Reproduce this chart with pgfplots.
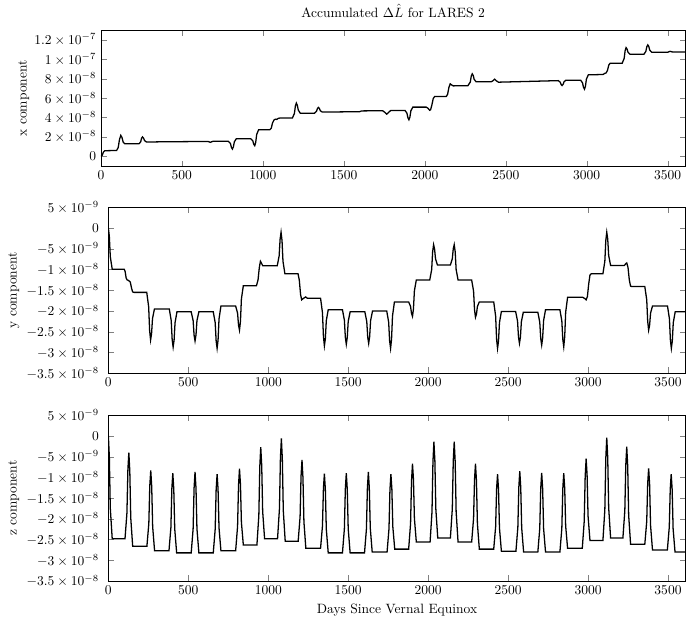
\documentclass[border=0pt]{standalone}
\usepackage{pgfplots}
\pgfplotsset{compat=1.18}
\begin{document}
\begin{tikzpicture}
\pgfplotsset{every axis/.append style={scale only axis, xmin=0, xmax=3610, xtick={0,500,...,3500}, scaled y ticks=false, scaled x ticks=false, /pgf/number format/1000 sep={}}}
% ---------- x component ----------
\begin{axis}[name=top, at={(0,0)}, anchor=north west,
  width=432.9pt, height=100.6pt,
  ymin=-1.03e-8, ymax=1.297e-7,
  ytick={0,2e-8,4e-8,6e-8,8e-8,1e-7,1.2e-7},
  yticklabels={$0$,$2\times10^{-8}$,$4\times10^{-8}$,$6\times10^{-8}$,$8\times10^{-8}$,$1\times10^{-7}$,$1.2\times10^{-7}$},
  ylabel={x component}, ylabel shift=-3pt,
  title={Accumulated $\Delta\hat{L}$ for LARES 2}]
\addplot[black, line width=0.95pt] coordinates {
(0,0e-9) (8,1.0e-9) (16,4.5e-9) (25,5.8e-9) (97,6.0e-9) (107,9.0e-9) (115,17.5e-9) (123,21.6e-9) (130,19.5e-9) (138,14.5e-9) (148,13.0e-9) (236,13.0e-9) (246,15.0e-9) (251,18.6e-9) (257,20.0e-9) (263,18.8e-9) (270,16.2e-9) (282,14.7e-9) (385,15.0e-9) (662,15.3e-9) (670,14.8e-9) (676,14.4e-9) (684,15.0e-9) (692,15.5e-9) (786,15.6e-9) (800,13.2e-9) (806,9.1e-9) (812,7.5e-9) (818,9.6e-9) (824,14.9e-9) (836,18.1e-9) (926,18.1e-9) (938,16.0e-9) (944,12.4e-9) (950,11.0e-9) (956,14.3e-9) (962,22.5e-9) (974,27.4e-9) (1043,27.4e-9) (1052,29.0e-9) (1060,34.5e-9) (1069,37.5e-9) (1078,38.3e-9) (1086,38.0e-9) (1096,39.2e-9) (1104,39.4e-9) (1183,39.6e-9) (1195,44.2e-9) (1201,51.8e-9) (1207,54.8e-9) (1213,52.7e-9) (1219,47.6e-9) (1231,44.5e-9) (1319,44.5e-9) (1331,46.3e-9) (1337,49.2e-9) (1343,50.4e-9) (1349,49.4e-9) (1355,47.0e-9) (1367,45.6e-9) (1598,46.0e-9) (1610,46.8e-9) (1740,47.0e-9) (1752,45.5e-9) (1765,43.5e-9) (1778,45.5e-9) (1790,47.3e-9) (1878,47.3e-9) (1890,44.4e-9) (1896,39.6e-9) (1902,37.7e-9) (1908,40.3e-9) (1914,46.8e-9) (1926,50.7e-9) (2009,50.7e-9) (2020,49.5e-9) (2030,47.5e-9) (2036,48.0e-9) (2044,53.0e-9) (2052,59.5e-9) (2061,61.7e-9) (2133,61.7e-9) (2141,64.0e-9) (2149,71.0e-9) (2157,74.7e-9) (2166,73.5e-9) (2176,72.6e-9) (2266,72.8e-9) (2281,76.5e-9) (2287,82.6e-9) (2293,85.0e-9) (2299,83.4e-9) (2305,79.3e-9) (2317,76.8e-9) (2410,76.8e-9) (2422,78.0e-9) (2431,79.5e-9) (2440,78.0e-9) (2455,76.4e-9) (2595,77.0e-9) (2824,78.0e-9) (2836,76.5e-9) (2842,74.0e-9) (2848,73.0e-9) (2854,74.1e-9) (2860,76.9e-9) (2872,78.5e-9) (2962,78.5e-9) (2974,75.7e-9) (2980,71.1e-9) (2986,69.2e-9) (2992,72.2e-9) (2998,79.6e-9) (3010,84.0e-9) (3100,84.3e-9) (3112,85.5e-9) (3120,86.0e-9) (3128,88.5e-9) (3136,94.0e-9) (3145,96.0e-9) (3219,96.0e-9) (3231,100.8e-9) (3237,108.8e-9) (3243,112.0e-9) (3249,110.6e-9) (3255,107.2e-9) (3267,105.2e-9) (3353,105.2e-9) (3365,108.1e-9) (3371,112.9e-9) (3377,114.8e-9) (3383,113.3e-9) (3389,109.5e-9) (3401,107.3e-9) (3500,107.3e-9) (3515,108.2e-9) (3530,107.5e-9) (3610,107.5e-9)
};
\end{axis}
% ---------- y component ----------
\begin{axis}[name=mid, at={(5.55pt,-131pt)}, anchor=north west,
  width=427.4pt, height=122.8pt,
  ymin=-3.5e-8, ymax=5e-9,
  ytick={-3.5e-8,-3e-8,-2.5e-8,-2e-8,-1.5e-8,-1e-8,-5e-9,0,5e-9},
  yticklabels={$-3.5\times10^{-8}$,$-3\times10^{-8}$,$-2.5\times10^{-8}$,$-2\times10^{-8}$,$-1.5\times10^{-8}$,$-1\times10^{-8}$,$-5\times10^{-9}$,$0$,$5\times10^{-9}$},
  yticklabel style={xshift=-3.5pt},
  ylabel={y component}, ylabel shift=-1.5pt]
\addplot[black, line width=0.95pt] coordinates {
(0,0e-9) (6,-2.0e-9) (12,-6.9e-9) (24,-9.9e-9) (99,-9.9e-9) (105,-10.5e-9) (111,-12.0e-9) (117,-12.5e-9) (125,-12.6e-9) (137,-13.0e-9) (145,-14.5e-9) (152,-15.4e-9) (160,-15.5e-9)
(240,-15.5e-9) (252,-19.0e-9) (258,-24.7e-9) (264,-27.0e-9) (270,-25.5e-9) (276,-21.8e-9) (288,-19.5e-9)
(381,-19.5e-9) (393,-22.3e-9) (399,-26.9e-9) (405,-28.7e-9) (411,-27.0e-9) (417,-22.8e-9) (429,-20.2e-9)
(518,-20.2e-9) (530,-22.3e-9) (536,-25.8e-9) (542,-27.2e-9) (548,-25.8e-9) (554,-22.3e-9) (566,-20.2e-9)
(656,-20.2e-9) (668,-22.8e-9) (674,-27.2e-9) (680,-29.0e-9) (686,-27.0e-9) (692,-21.9e-9) (704,-18.8e-9)
(796,-18.8e-9) (808,-20.5e-9) (814,-23.4e-9) (820,-24.6e-9) (826,-22.5e-9) (832,-17.1e-9) (844,-13.9e-9)
(926,-13.9e-9) (936,-12.5e-9) (944,-9.5e-9) (951,-8.0e-9) (958,-8.5e-9) (966,-9.1e-9) (978,-9.1e-9)
(1056,-9.1e-9) (1068,-6.7e-9) (1074,-2.7e-9) (1080,-1.0e-9) (1086,-3.0e-9) (1092,-8.0e-9) (1104,-11.0e-9)
(1186,-11.0e-9) (1194,-12.5e-9) (1202,-16.0e-9) (1209,-17.3e-9) (1218,-17.0e-9) (1234,-16.6e-9) (1244,-16.9e-9)
(1327,-16.9e-9) (1339,-20.4e-9) (1345,-26.1e-9) (1351,-28.4e-9) (1357,-26.7e-9) (1363,-22.3e-9) (1375,-19.7e-9)
(1464,-19.7e-9) (1476,-22.2e-9) (1482,-26.3e-9) (1488,-28.0e-9) (1494,-26.4e-9) (1500,-22.5e-9) (1512,-20.2e-9)
(1604,-20.2e-9) (1616,-22.5e-9) (1622,-26.3e-9) (1628,-27.8e-9) (1634,-26.2e-9) (1640,-22.3e-9) (1652,-20.0e-9)
(1741,-20.0e-9) (1753,-22.7e-9) (1759,-27.2e-9) (1765,-29.0e-9) (1771,-26.8e-9) (1777,-21.2e-9) (1789,-17.8e-9)
(1878,-17.8e-9) (1890,-18.9e-9) (1896,-20.6e-9) (1902,-21.3e-9) (1908,-19.5e-9) (1914,-15.1e-9) (1926,-12.5e-9)
(2010,-12.5e-9) (2022,-10.0e-9) (2028,-5.7e-9) (2034,-4.0e-9) (2040,-5.0e-9) (2046,-7.4e-9) (2058,-8.9e-9)
(2139,-8.9e-9) (2151,-7.4e-9) (2157,-5.0e-9) (2163,-4.0e-9) (2169,-5.7e-9) (2175,-10.0e-9) (2187,-12.5e-9)
(2272,-12.5e-9) (2284,-15.2e-9) (2290,-19.7e-9) (2296,-21.5e-9) (2302,-20.8e-9) (2308,-18.9e-9) (2320,-17.8e-9)
(2410,-17.8e-9) (2422,-21.2e-9) (2428,-26.8e-9) (2434,-29.0e-9) (2440,-27.2e-9) (2446,-22.8e-9) (2458,-20.1e-9)
(2547,-20.1e-9) (2559,-22.4e-9) (2565,-26.3e-9) (2571,-27.8e-9) (2577,-26.3e-9) (2583,-22.6e-9) (2595,-20.3e-9)
(2686,-20.3e-9) (2698,-22.7e-9) (2704,-26.6e-9) (2710,-28.2e-9) (2716,-26.5e-9) (2722,-22.3e-9) (2734,-19.7e-9)
(2824,-19.7e-9) (2836,-22.4e-9) (2842,-26.8e-9) (2848,-28.6e-9) (2854,-26.2e-9) (2860,-20.3e-9) (2872,-16.7e-9)
(2967,-16.7e-9) (2980,-17.0e-9) (2988,-17.3e-9) (2996,-16.5e-9) (3004,-13.5e-9) (3012,-11.3e-9) (3020,-11.0e-9)
(3093,-11.0e-9) (3105,-8.0e-9) (3111,-3.0e-9) (3117,-1.0e-9) (3123,-2.6e-9) (3129,-6.6e-9) (3141,-9.0e-9)
(3227,-9.0e-9) (3236,-8.6e-9) (3242,-8.4e-9) (3250,-9.5e-9) (3258,-12.5e-9) (3266,-14.0e-9) (3274,-14.1e-9)
(3355,-14.1e-9) (3367,-17.3e-9) (3373,-22.5e-9) (3379,-24.6e-9) (3385,-23.4e-9) (3391,-20.5e-9) (3403,-18.8e-9)
(3497,-18.8e-9) (3509,-21.9e-9) (3515,-27.0e-9) (3521,-29.0e-9) (3527,-27.2e-9) (3533,-22.8e-9) (3545,-20.2e-9)
(3610,-20.2e-9)
};
\end{axis}
% ---------- z component ----------
\begin{axis}[name=bot, at={(5.55pt,-284.9pt)}, anchor=north west,
  width=427.4pt, height=122.8pt,
  ymin=-3.5e-8, ymax=5e-9,
  ytick={-3.5e-8,-3e-8,-2.5e-8,-2e-8,-1.5e-8,-1e-8,-5e-9,0,5e-9},
  yticklabels={$-3.5\times10^{-8}$,$-3\times10^{-8}$,$-2.5\times10^{-8}$,$-2\times10^{-8}$,$-1.5\times10^{-8}$,$-1\times10^{-8}$,$-5\times10^{-9}$,$0$,$5\times10^{-9}$},
  yticklabel style={xshift=-3.5pt},
  ylabel={z component}, ylabel shift=-1.5pt,
  xlabel={Days Since Vernal Equinox}]
\addplot[black, line width=0.95pt] coordinates {
(0,0e-9) (6,-5.0e-9) (12,-17.4e-9) (24,-24.8e-9)
(104,-24.8e-9) (116,-18.6e-9) (122,-8.2e-9) (128,-4.0e-9) (134,-8.5e-9) (140,-19.8e-9) (152,-26.6e-9)
(241,-26.6e-9) (253,-21.1e-9) (259,-12.0e-9) (265,-8.3e-9) (271,-12.2e-9) (277,-21.9e-9) (289,-27.7e-9)
(379,-27.7e-9) (391,-22.1e-9) (397,-12.7e-9) (403,-9.0e-9) (409,-12.8e-9) (415,-22.4e-9) (427,-28.2e-9)
(518,-28.2e-9) (530,-22.4e-9) (536,-12.6e-9) (542,-8.7e-9) (548,-12.6e-9) (554,-22.4e-9) (566,-28.2e-9)
(656,-28.2e-9) (668,-22.5e-9) (674,-13.0e-9) (680,-9.2e-9) (686,-12.9e-9) (692,-22.2e-9) (704,-27.7e-9)
(796,-27.7e-9) (808,-21.8e-9) (814,-11.9e-9) (820,-7.9e-9) (826,-11.6e-9) (832,-20.8e-9) (844,-26.3e-9)
(929,-26.3e-9) (941,-19.2e-9) (947,-7.4e-9) (953,-2.7e-9) (959,-7.1e-9) (965,-18.2e-9) (977,-24.8e-9)
(1058,-24.8e-9) (1070,-17.5e-9) (1076,-5.4e-9) (1082,-0.6e-9) (1088,-5.6e-9) (1094,-18.0e-9) (1106,-25.4e-9)
(1187,-25.4e-9) (1199,-19.5e-9) (1205,-9.7e-9) (1211,-5.8e-9) (1217,-10.1e-9) (1223,-20.7e-9) (1235,-27.1e-9)
(1327,-27.1e-9) (1339,-21.7e-9) (1345,-12.7e-9) (1351,-9.1e-9) (1357,-12.9e-9) (1363,-22.5e-9) (1375,-28.2e-9)
(1464,-28.2e-9) (1476,-22.4e-9) (1482,-12.8e-9) (1488,-9.0e-9) (1494,-12.8e-9) (1500,-22.4e-9) (1512,-28.2e-9)
(1602,-28.2e-9) (1614,-22.4e-9) (1620,-12.6e-9) (1626,-8.7e-9) (1632,-12.6e-9) (1638,-22.2e-9) (1650,-28.0e-9)
(1743,-28.0e-9) (1755,-22.4e-9) (1761,-13.0e-9) (1767,-9.2e-9) (1773,-12.8e-9) (1779,-21.9e-9) (1791,-27.3e-9)
(1878,-27.3e-9) (1890,-21.1e-9) (1896,-10.8e-9) (1902,-6.7e-9) (1908,-10.4e-9) (1914,-19.9e-9) (1926,-25.6e-9)
(2012,-25.6e-9) (2024,-18.3e-9) (2030,-6.2e-9) (2036,-1.4e-9) (2042,-6.0e-9) (2048,-17.6e-9) (2060,-24.6e-9)
(2139,-24.6e-9) (2151,-17.6e-9) (2157,-6.0e-9) (2163,-1.4e-9) (2169,-6.2e-9) (2175,-18.3e-9) (2187,-25.6e-9)
(2272,-25.6e-9) (2284,-19.9e-9) (2290,-10.5e-9) (2296,-6.7e-9) (2302,-10.8e-9) (2308,-21.1e-9) (2320,-27.3e-9)
(2410,-27.3e-9) (2422,-21.9e-9) (2428,-12.8e-9) (2434,-9.2e-9) (2440,-12.9e-9) (2446,-22.2e-9) (2458,-27.8e-9)
(2549,-27.8e-9) (2561,-22.0e-9) (2567,-12.4e-9) (2573,-8.5e-9) (2579,-12.4e-9) (2585,-22.2e-9) (2597,-28.0e-9)
(2686,-28.0e-9) (2698,-22.3e-9) (2704,-12.7e-9) (2710,-8.9e-9) (2716,-12.7e-9) (2722,-22.3e-9) (2734,-28.0e-9)
(2824,-28.0e-9) (2836,-22.3e-9) (2842,-12.8e-9) (2848,-9.0e-9) (2854,-12.6e-9) (2860,-21.7e-9) (2872,-27.1e-9)
(2964,-27.1e-9) (2976,-20.6e-9) (2982,-9.8e-9) (2988,-5.5e-9) (2994,-9.4e-9) (3000,-19.3e-9) (3012,-25.2e-9)
(3093,-25.2e-9) (3105,-17.8e-9) (3111,-5.4e-9) (3117,-0.4e-9) (3123,-5.2e-9) (3129,-17.3e-9) (3141,-24.6e-9)
(3218,-24.6e-9) (3230,-18.0e-9) (3236,-7.0e-9) (3242,-2.6e-9) (3248,-7.3e-9) (3254,-19.1e-9) (3266,-26.1e-9)
(3355,-26.1e-9) (3367,-20.6e-9) (3373,-11.5e-9) (3379,-7.8e-9) (3385,-11.7e-9) (3391,-21.6e-9) (3403,-27.5e-9)
(3496,-27.5e-9) (3508,-22.0e-9) (3514,-12.9e-9) (3520,-9.2e-9) (3526,-12.9e-9) (3532,-22.4e-9) (3544,-28.0e-9)
(3610,-28.0e-9)
};
\end{axis}
\path (-74.7pt,0pt);
\end{tikzpicture}
\end{document}
